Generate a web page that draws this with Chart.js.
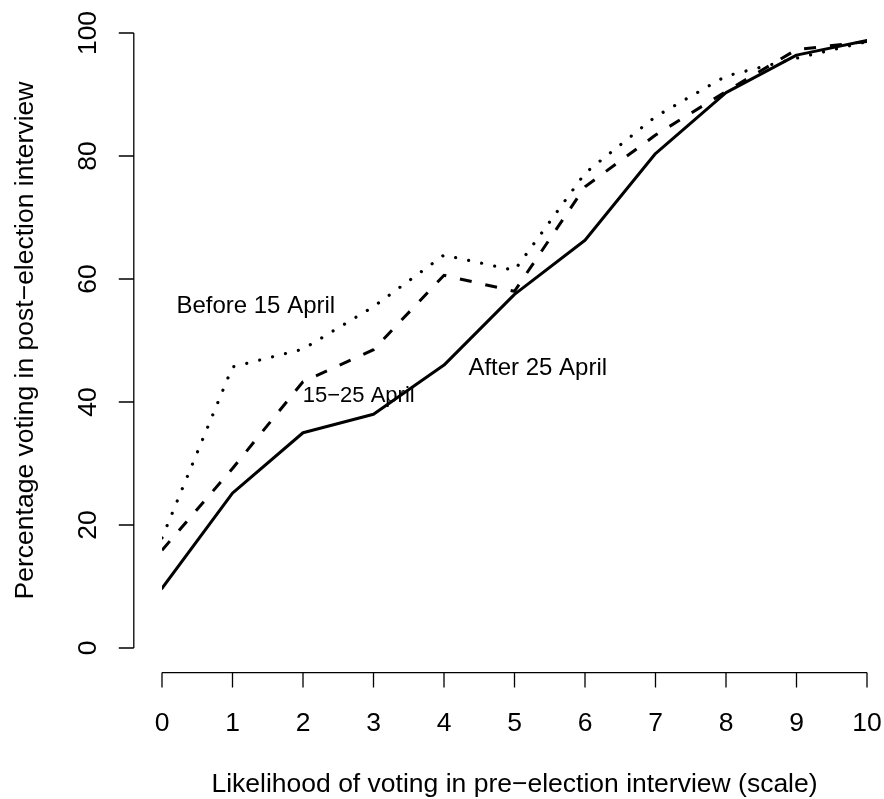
<!DOCTYPE html>
<html lang="en">
<head>
<meta charset="UTF-8">
<title>Likelihood of voting</title>
<script src="https://cdn.jsdelivr.net/npm/chart.js"></script>
<style>
  html, body { margin: 0; padding: 0; background: #fff; }
  #wrap { width: 884px; height: 799px; }
</style>
</head>
<body>
<div id="wrap"><canvas id="voteChart" width="884" height="799"></canvas></div>
<script>
// data
var scalePoints = [0, 1, 2, 3, 4, 5, 6, 7, 8, 9, 10];
var before15 = [17.9, 45.7, 48.6, 55.5, 63.9, 61.4, 77.2, 86.4, 93.0, 95.9, 98.6];
var april1525 = [15.9, 29.2, 43.3, 48.5, 60.6, 58.0, 75.0, 83.4, 90.5, 97.3, 98.6];
var after25 = [9.7, 25.2, 35.0, 38.0, 46.0, 57.5, 66.3, 80.4, 90.3, 96.4, 98.8];
var yTicks = [0, 20, 40, 60, 80, 100];

// text labels in the plot (data coords)
var noteText = ["Before 15 April", "15\u221225 April", "After 25 April"];
var noteX = [1.33, 2.79, 5.33];
var noteY = [55.6, 41.0, 45.5];
var noteSize = [24, 22, 24];

var FONT = '"Liberation Sans", Arial, sans-serif';
var AXIS_FONT = "26.5px " + FONT;

function pts(vals) {
  return scalePoints.map(function (x, i) { return { x: x, y: vals[i] }; });
}

// R style axes, detached from the plot region (4% out)
var rAxes = {
  id: "rAxes",
  afterDraw: function (chart) {
    var ctx = chart.ctx;
    var xs = chart.scales.x, ys = chart.scales.y;
    var axX = xs.getPixelForValue(-0.4);
    var axY = ys.getPixelForValue(-4);

    ctx.save();
    ctx.strokeStyle = "#000";
    ctx.fillStyle = "#000";
    ctx.lineWidth = 1.3;
    ctx.lineCap = "butt";

    // x axis
    var x0 = xs.getPixelForValue(scalePoints[0]);
    var x1 = xs.getPixelForValue(scalePoints[scalePoints.length - 1]);
    ctx.beginPath();
    ctx.moveTo(x0, axY); ctx.lineTo(x1, axY);
    scalePoints.forEach(function (v) {
      var px = xs.getPixelForValue(v);
      ctx.moveTo(px, axY); ctx.lineTo(px, axY + 15);
    });
    ctx.stroke();
    ctx.font = AXIS_FONT;
    ctx.textAlign = "center";
    ctx.textBaseline = "alphabetic";
    scalePoints.forEach(function (v) {
      ctx.fillText(String(v), xs.getPixelForValue(v), 731);
    });
    ctx.fillText("Likelihood of voting in pre\u2212election interview (scale)",
      (xs.getPixelForValue(-0.4) + xs.getPixelForValue(10.4)) / 2, 792);

    // y axis
    var y0 = ys.getPixelForValue(yTicks[0]);
    var y1 = ys.getPixelForValue(yTicks[yTicks.length - 1]);
    ctx.beginPath();
    ctx.moveTo(axX, y0); ctx.lineTo(axX, y1);
    yTicks.forEach(function (v) {
      var py = ys.getPixelForValue(v);
      ctx.moveTo(axX, py); ctx.lineTo(axX - 15, py);
    });
    ctx.stroke();
    yTicks.forEach(function (v) {
      ctx.save();
      ctx.translate(96, ys.getPixelForValue(v));
      ctx.rotate(-Math.PI / 2);
      ctx.fillText(String(v), 0, 0);
      ctx.restore();
    });
    ctx.save();
    ctx.translate(33, (ys.getPixelForValue(-4) + ys.getPixelForValue(104)) / 2);
    ctx.rotate(-Math.PI / 2);
    ctx.fillText("Percentage voting in post\u2212election interview", 0, 0);
    ctx.restore();

    // notes
    ctx.textBaseline = "middle";
    noteText.forEach(function (t, i) {
      ctx.font = noteSize[i] + "px " + FONT;
      ctx.fillText(t, xs.getPixelForValue(noteX[i]), ys.getPixelForValue(noteY[i]));
    });
    ctx.restore();
  }
};

new Chart(document.getElementById("voteChart").getContext("2d"), {
  type: "line",
  data: {
    datasets: [
      {
        label: "After 25 April",
        data: pts(after25),
        borderColor: "#000",
        borderWidth: 3,
        borderCapStyle: "round",
        borderJoinStyle: "round"
      },
      {
        label: "15-25 April",
        data: pts(april1525),
        borderColor: "#000",
        borderWidth: 3,
        borderDash: [12, 14],
        borderCapStyle: "butt"
      },
      {
        label: "Before 15 April",
        data: pts(before15),
        borderColor: "#000",
        borderWidth: 3.2,
        borderDash: [0.01, 13.3],
        borderCapStyle: "round"
      }
    ]
  },
  options: {
    responsive: false,
    animation: false,
    events: [],
    layout: { padding: { left: 162, right: 17, top: 33, bottom: 151 } },
    elements: { point: { radius: 0 }, line: { tension: 0, fill: false } },
    plugins: { legend: { display: false }, tooltip: { enabled: false } },
    scales: {
      x: { type: "linear", min: 0, max: 10, display: false },
      y: { type: "linear", min: 0, max: 100, display: false }
    }
  },
  plugins: [rAxes]
});
</script>
</body>
</html>
